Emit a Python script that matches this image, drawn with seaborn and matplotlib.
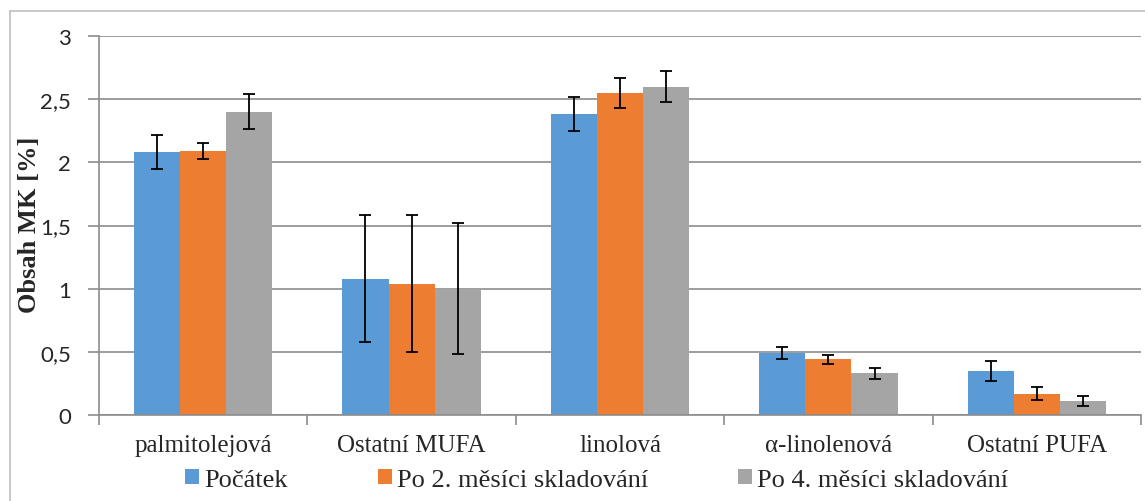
import matplotlib
matplotlib.use("Agg")
import matplotlib.pyplot as plt
import seaborn as sns
import pandas as pd
import numpy as np
from matplotlib.patches import Rectangle

categories = ["palmitolejová", "Ostatní MUFA", "linolová", "α-linolenová", "Ostatní PUFA"]
series = ["Počátek", "Po 2. měsíci skladování", "Po 4. měsíci skladování"]
vals_0 = [2.08, 1.08, 2.38, 0.49, 0.35]
vals_2 = [2.09, 1.04, 2.55, 0.44, 0.17]
vals_4 = [2.40, 1.00, 2.60, 0.33, 0.11]
err_0 = [0.135, 0.50, 0.135, 0.045, 0.08]
err_2 = [0.06, 0.54, 0.12, 0.035, 0.055]
err_4 = [0.14, 0.52, 0.125, 0.045, 0.04]
yticks = [0, 0.5, 1, 1.5, 2, 2.5, 3]
ytick_labels = ["0", "0,5", "1", "1,5", "2", "2,5", "3"]
colors = ["#5B9BD5", "#ED7D31", "#A5A5A5"]

sns.set_theme(style="white")
plt.rcParams["font.family"] = ["Liberation Serif", "DejaVu Serif"]

rows = []
for s, v in zip(series, [vals_0, vals_2, vals_4]):
    for c, x in zip(categories, v):
        rows.append({"kat": c, "serie": s, "hodnota": x})
df = pd.DataFrame(rows)

fig = plt.figure(figsize=(11.45, 5.02), dpi=100)
W, H = 1145, 502
ax = fig.add_axes([99 / W, 1 - 416 / H, (1141 - 99) / W, (416 - 37) / H])

sns.barplot(data=df, x="kat", y="hodnota", hue="serie", order=categories,
            hue_order=series, palette=colors, errorbar=None, width=0.665,
            saturation=1, ax=ax, legend=True, edgecolor="none", linewidth=0)

# error bars using bar containers
for cont, errs in zip(ax.containers, [err_0, err_2, err_4]):
    xs = [p.get_x() + p.get_width() / 2 for p in cont.patches]
    hs = [p.get_height() for p in cont.patches]
    ax.errorbar(xs, hs, yerr=errs, fmt="none", ecolor="black", elinewidth=1.3,
                capsize=4.5, capthick=1.3, zorder=5)

ax.set_xlim(-0.5, 4.5)
ax.set_ylim(0, 3)
ax.set_yticks(yticks)
ax.set_yticklabels(ytick_labels, fontfamily="Lato", fontsize=16)
ax.yaxis.grid(True, color="#8c8c8c", linewidth=1.2)
ax.set_axisbelow(True)
ax.set_xlabel("")
ax.set_ylabel("Obsah MK [%]", fontweight="bold", fontsize=19)
ax.yaxis.set_label_coords(-0.056, 0.505)

ax.set_xticks(range(len(categories)))
ax.set_xticklabels(categories, fontsize=18)
ax.set_xticks(np.arange(-0.5, 5.0, 1.0), minor=True)
ax.tick_params(axis="x", which="major", length=0, pad=14)
ax.tick_params(axis="x", which="minor", length=7, color="#8c8c8c", width=1.2, bottom=True)
ax.tick_params(axis="y", length=8, color="#8c8c8c", width=1.2, left=True, pad=12)

for side in ["top", "right"]:
    ax.spines[side].set_visible(False)
for side in ["left", "bottom"]:
    ax.spines[side].set_color("#8c8c8c")
    ax.spines[side].set_linewidth(1.2)

handles, labels = ax.get_legend_handles_labels()
ax.get_legend().remove()
fig.legend(handles, labels, loc="center", bbox_to_anchor=(597 / W, 1 - 481 / H),
           ncol=3, frameon=False, fontsize=19, handlelength=0.53, handleheight=0.53,
           handletextpad=0.2, columnspacing=3.4, borderpad=0)

# outer chart border
fig.add_artist(Rectangle((9.5 / W, -0.1), 1.2, 1 - 12 / H + 0.1, transform=fig.transFigure,
                         fill=False, edgecolor="#bfbfbf", linewidth=1.2))

fig.savefig("out.png", dpi=100)
